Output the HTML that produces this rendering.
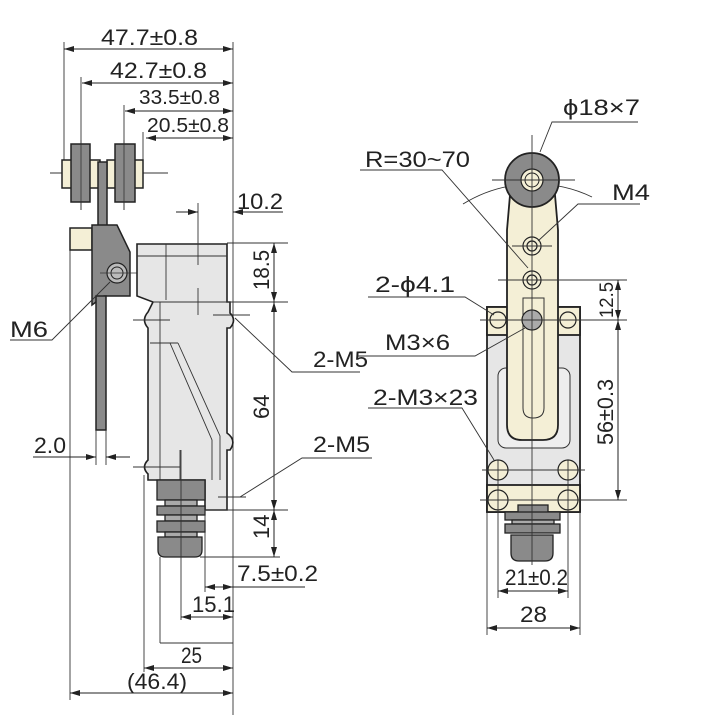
<!DOCTYPE html>
<html><head><style>html,body{margin:0;padding:0;background:#fff}svg{display:block}</style></head>
<body>
<svg width="720" height="720" viewBox="0 0 720 720" xmlns="http://www.w3.org/2000/svg" font-family="Liberation Sans, DejaVu Sans, sans-serif" fill="none" stroke="#222" stroke-width="1">
<defs>
<marker id="a" viewBox="0 0 10 6" refX="10" refY="3" markerWidth="10" markerHeight="6" orient="auto-start-reverse" markerUnits="userSpaceOnUse"><path d="M0,0 L10,3 L0,6 Z" fill="#222" stroke="none"/></marker>
</defs>
<!-- ===== LEFT VIEW ===== -->
<g stroke="#333" stroke-width="0.9">
<line x1="64" y1="42" x2="64" y2="165"/>
<line x1="233" y1="42" x2="233" y2="715"/>
<line x1="81" y1="77" x2="81" y2="210"/>
<line x1="124" y1="105" x2="124" y2="210"/>
<line x1="143" y1="132" x2="143" y2="165"/>
<line x1="70" y1="240" x2="70" y2="700"/>
<line x1="50" y1="173" x2="168" y2="173"/>
</g>
<line x1="64" y1="49" x2="233" y2="49" marker-start="url(#a)" marker-end="url(#a)"/>
<line x1="82" y1="83" x2="233" y2="83" marker-start="url(#a)" marker-end="url(#a)"/>
<line x1="125" y1="111" x2="233" y2="111" marker-start="url(#a)" marker-end="url(#a)"/>
<line x1="146" y1="138" x2="233" y2="138" marker-start="url(#a)" marker-end="url(#a)"/>
<g fill="#222" stroke="none" font-size="22">
<text x="101" y="45" textLength="97" lengthAdjust="spacingAndGlyphs">47.7±0.8</text>
<text x="110" y="78" textLength="97" lengthAdjust="spacingAndGlyphs">42.7±0.8</text>
<text x="139" y="104" font-size="20" textLength="81" lengthAdjust="spacingAndGlyphs">33.5±0.8</text>
<text x="147" y="132" font-size="20" textLength="82" lengthAdjust="spacingAndGlyphs">20.5±0.8</text>
</g>
<g stroke="#222" stroke-width="1.5">
<rect x="62" y="160" width="38" height="28" fill="#f4efd6"/>
<rect x="71" y="144" width="19" height="58" fill="#8a8a8a"/>
<rect x="107" y="160" width="36" height="28" fill="#f4efd6"/>
<rect x="115" y="144" width="20" height="58" fill="#8a8a8a"/>
<rect x="98" y="162" width="9" height="64" fill="#8a8a8a"/>
<rect x="70" y="228" width="22" height="22" fill="#f4efd6"/>
<path d="M92,225 L117,225 L130,252 L130,296 L104,296 L104,296 L92,305 Z" fill="#8a8a8a"/>
<rect x="96" y="296" width="10" height="134" fill="#8a8a8a"/>
</g>
<line x1="81" y1="140" x2="81" y2="210" stroke="#333" stroke-width="0.8"/>
<line x1="124" y1="140" x2="124" y2="210" stroke="#333" stroke-width="0.8"/>
<circle cx="117" cy="273" r="10" fill="#bbb" stroke="#222" stroke-width="1.2"/>
<circle cx="117" cy="273" r="6" stroke="#222"/>
<line x1="100" y1="273" x2="148" y2="273" stroke="#333" stroke-width="0.8"/>
<g stroke="#222" stroke-width="1.6" fill="#e6e6e6">
<path d="M137,244 L227,244 L227,302 L230,302 L230,313 Q237,320 230,328 L227,328 L227,433 Q237,440 230,450 L227,450 L227,510 L205,510 L205,480 L148,480 L148,474 Q141,467 148,460 L148,328 Q141,320 148,312 L153,302 L137,296 Z"/>
</g>
<g stroke="#333" stroke-width="0.9">
<line x1="137" y1="256" x2="227" y2="256"/>
<line x1="166" y1="244" x2="166" y2="300"/>
<line x1="153" y1="302" x2="227" y2="302"/>
<line x1="160" y1="302" x2="160" y2="480"/>
<line x1="150" y1="343" x2="178" y2="343"/>
<path d="M170,343 L212,440 L212,480"/>
<path d="M178,343 L220,436 L220,480"/>
<line x1="198" y1="203" x2="198" y2="265"/>
<line x1="198" y1="288" x2="198" y2="315"/>
<line x1="180" y1="450" x2="180" y2="480"/>
<line x1="133" y1="320" x2="170" y2="320"/>
<line x1="133" y1="467" x2="180" y2="467"/>
<line x1="213" y1="315" x2="250" y2="315"/>
<line x1="218" y1="497" x2="246" y2="497"/>
</g>
<g stroke="#222" stroke-width="1.3" fill="#8a8a8a">
<rect x="157" y="480" width="48" height="20"/>
<rect x="165" y="500" width="32" height="6" fill="#aaa"/>
<rect x="157" y="506" width="48" height="9"/>
<rect x="165" y="515" width="32" height="6" fill="#aaa"/>
<rect x="157" y="521" width="48" height="11"/>
<rect x="165" y="532" width="32" height="5" fill="#aaa"/>
<path d="M158,537 L202,537 L202,550 Q202,557 195,557 L165,557 Q158,557 158,550 Z"/>
</g>
<line x1="181" y1="450" x2="181" y2="620" stroke="#333" stroke-width="0.9"/>
<g stroke="#333" stroke-width="0.9">
<line x1="227" y1="243" x2="288" y2="243"/>
<line x1="227" y1="302" x2="288" y2="302"/>
<line x1="205" y1="510" x2="288" y2="510"/>
<line x1="200" y1="557" x2="280" y2="557"/>
<line x1="205" y1="510" x2="205" y2="592"/>
<line x1="160" y1="557" x2="160" y2="643"/>
<line x1="160" y1="643" x2="233" y2="643"/>
<line x1="144" y1="475" x2="144" y2="672"/>
<line x1="96" y1="430" x2="96" y2="465"/>
<line x1="106" y1="430" x2="106" y2="465"/>
</g>
<line x1="274" y1="243" x2="274" y2="302" marker-start="url(#a)" marker-end="url(#a)"/>
<line x1="274" y1="302" x2="274" y2="510" marker-start="url(#a)" marker-end="url(#a)"/>
<line x1="274" y1="510" x2="274" y2="557" marker-start="url(#a)" marker-end="url(#a)"/>
<line x1="176" y1="212" x2="198" y2="212" marker-end="url(#a)"/>
<line x1="283" y1="212" x2="233" y2="212" marker-end="url(#a)"/>
<line x1="205" y1="587" x2="305" y2="587" marker-start="url(#a)"/>
<line x1="222" y1="587" x2="233" y2="587" marker-end="url(#a)"/>
<line x1="181" y1="617" x2="233" y2="617" marker-start="url(#a)" marker-end="url(#a)"/>
<line x1="144" y1="668" x2="233" y2="668" marker-start="url(#a)" marker-end="url(#a)"/>
<line x1="70" y1="693" x2="233" y2="693" marker-start="url(#a)" marker-end="url(#a)"/>
<line x1="33" y1="457" x2="96" y2="457" marker-end="url(#a)"/>
<line x1="130" y1="457" x2="106" y2="457" marker-end="url(#a)"/>
<g fill="#222" stroke="none" font-size="22">
<text x="237" y="209" textLength="46" lengthAdjust="spacingAndGlyphs">10.2</text>
<text transform="translate(269,270) rotate(-90)" textLength="40" lengthAdjust="spacingAndGlyphs" x="-20">18.5</text>
<text transform="translate(269,407) rotate(-90)" x="-12">64</text>
<text transform="translate(269,527) rotate(-90)" x="-12">14</text>
<text x="237" y="581" textLength="81" lengthAdjust="spacingAndGlyphs">7.5±0.2</text>
<text x="192" y="612" textLength="43" lengthAdjust="spacingAndGlyphs">15.1</text>
<text x="181" y="663" textLength="21" lengthAdjust="spacingAndGlyphs">25</text>
<text x="127" y="689" textLength="60" lengthAdjust="spacingAndGlyphs">(46.4)</text>
<text x="34" y="453" textLength="32" lengthAdjust="spacingAndGlyphs">2.0</text>
<text x="10" y="337" textLength="38" lengthAdjust="spacingAndGlyphs">M6</text>
<text x="313" y="367" textLength="55" lengthAdjust="spacingAndGlyphs">2-M5</text>
<text x="313" y="452" textLength="57" lengthAdjust="spacingAndGlyphs">2-M5</text>
</g>
<g stroke="#333" stroke-width="0.9">
<polyline points="10,340 52,340 110,282"/>
<polyline points="235,318 292,372 360,372"/>
<polyline points="240,497 302,458 372,458"/>
</g>

<!-- ===== RIGHT VIEW ===== -->
<path d="M463,204 A135,135 0 0 1 592,197" stroke="#333" stroke-width="0.9"/>
<g stroke="#222" stroke-width="1.8">
<rect x="487" y="307" width="93" height="205" fill="#e6e6e6"/>
<rect x="487" y="307" width="93" height="28" fill="#f4efd6"/>
<rect x="487" y="485" width="93" height="27" fill="#f4efd6"/>
</g>
<rect x="498" y="368" width="72" height="80" rx="8" fill="#eeeeee" stroke="#333" stroke-width="1"/>
<path d="M510,195 L555,195 L558,230 L558,425 Q558,440 543,440 L522,440 Q507,440 507,425 L507,230 Z" fill="#f4efd6" stroke="#222" stroke-width="1.8"/>
<circle cx="532" cy="180" r="27" fill="#8a8a8a" stroke="#222" stroke-width="1.8"/>
<circle cx="532" cy="180" r="11" fill="#f4efd6" stroke="#222" stroke-width="1.2"/>
<circle cx="532" cy="180" r="7" stroke="#222"/>
<path d="M523,298 L544,298 L544,408 Q544,418 533,418 Q523,418 523,408 Z" fill="#f4efd6" stroke="#333" stroke-width="1"/>
<g stroke="#222" stroke-width="1.2" fill="#f4efd6">
<circle cx="532" cy="246" r="9"/><circle cx="532" cy="246" r="5"/>
<circle cx="532" cy="280" r="9"/><circle cx="532" cy="280" r="5"/>
<circle cx="532" cy="320" r="10" fill="#aaa"/>
<circle cx="498" cy="320" r="8"/><circle cx="568" cy="320" r="8"/>
<circle cx="498" cy="470" r="10"/><circle cx="568" cy="470" r="10"/>
<circle cx="498" cy="500" r="10"/><circle cx="568" cy="500" r="10"/>
</g>
<g stroke="#222" stroke-width="1.3" fill="#8a8a8a">
<rect x="518" y="505" width="30" height="8"/>
<rect x="505" y="512" width="55" height="8"/>
<rect x="512" y="520" width="42" height="4" fill="#aaa"/>
<rect x="505" y="524" width="55" height="9"/>
<path d="M511,535 L553,535 L553,553 Q553,561 545,561 L519,561 Q511,561 511,553 Z"/>
</g>
<g stroke="#333" stroke-width="0.9">
<line x1="532" y1="135" x2="532" y2="565"/>
<line x1="492" y1="180" x2="575" y2="180"/>
<line x1="512" y1="246" x2="552" y2="246"/>
<line x1="498" y1="280" x2="627" y2="280"/>
<line x1="480" y1="320" x2="627" y2="320"/>
<line x1="480" y1="500" x2="627" y2="500"/>
<line x1="482" y1="470" x2="585" y2="470"/>
<line x1="498" y1="460" x2="498" y2="598"/>
<line x1="568" y1="460" x2="568" y2="598"/>
<line x1="487" y1="512" x2="487" y2="635"/>
<line x1="580" y1="512" x2="580" y2="635"/>
</g>
<line x1="618" y1="280" x2="618" y2="320" marker-start="url(#a)" marker-end="url(#a)"/>
<line x1="618" y1="320" x2="618" y2="500" marker-start="url(#a)" marker-end="url(#a)"/>
<line x1="498" y1="591" x2="568" y2="591" marker-start="url(#a)" marker-end="url(#a)"/>
<line x1="487" y1="628" x2="580" y2="628" marker-start="url(#a)" marker-end="url(#a)"/>
<g stroke="#333" stroke-width="0.9">
<polyline points="638,122 552,122 540,152"/>
<polyline points="360,170 442,170 528,268"/>
<polyline points="640,204 578,204 538,241"/>
<polyline points="368,297 465,297 494,315"/>
<polyline points="358,356 475,356 525,328"/>
<polyline points="368,408 462,408 494,460"/>
</g>
<g fill="#222" stroke="none" font-size="22">
<text x="563" y="115" textLength="77" lengthAdjust="spacingAndGlyphs">ϕ18×7</text>
<text x="365" y="167" textLength="105" lengthAdjust="spacingAndGlyphs">R=30~70</text>
<text x="612" y="200" textLength="38" lengthAdjust="spacingAndGlyphs">M4</text>
<text x="375" y="292" textLength="80" lengthAdjust="spacingAndGlyphs">2-ϕ4.1</text>
<text x="385" y="350" textLength="65" lengthAdjust="spacingAndGlyphs">M3×6</text>
<text x="373" y="405" textLength="105" lengthAdjust="spacingAndGlyphs">2-M3×23</text>
<text transform="translate(613,300) rotate(-90)" x="-18" font-size="19" textLength="36" lengthAdjust="spacingAndGlyphs">12.5</text>
<text transform="translate(613,412) rotate(-90)" x="-33" textLength="66" lengthAdjust="spacingAndGlyphs">56±0.3</text>
<text x="505" y="585" textLength="63" lengthAdjust="spacingAndGlyphs">21±0.2</text>
<text x="520" y="622" textLength="27" lengthAdjust="spacingAndGlyphs">28</text>
</g>
</svg>
</body></html>
